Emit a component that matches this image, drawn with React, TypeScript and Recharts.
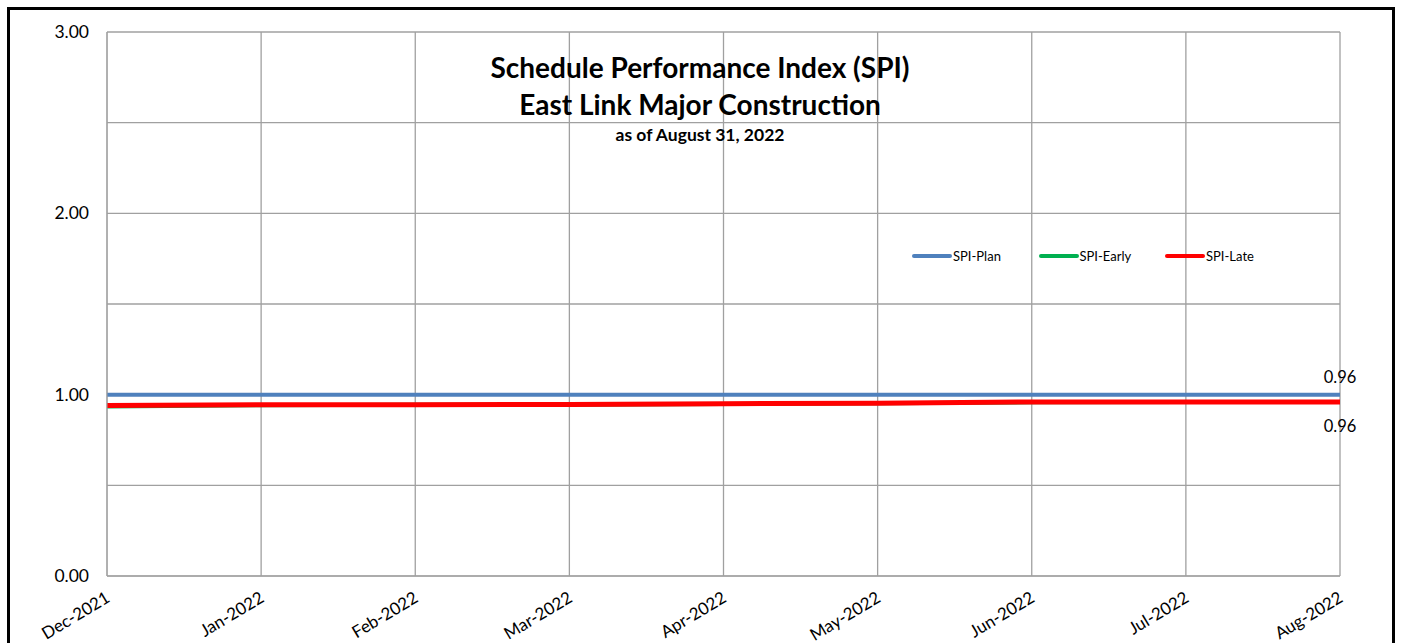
import { LineChart, Line, XAxis, YAxis, CartesianGrid, LabelList } from 'recharts';

const MONTHS = ['Dec-2021', 'Jan-2022', 'Feb-2022', 'Mar-2022', 'Apr-2022', 'May-2022', 'Jun-2022', 'Jul-2022', 'Aug-2022'];
const SPI_PLAN = [1, 1, 1, 1, 1, 1, 1, 1, 1];
const SPI_EARLY = [0.935, 0.942, 0.944, 0.945, 0.948, 0.952, 0.958, 0.96, 0.96];
const SPI_LATE = [0.94, 0.945, 0.945, 0.946, 0.95, 0.953, 0.96, 0.96, 0.96];
const Y_TICKS = [0, 0.5, 1, 1.5, 2, 2.5, 3];

const FONT = 'Lato, "Open Sans", sans-serif';

const SERIES = [
  { key: 'plan', name: 'SPI-Plan', color: '#4F81BD', width: 4 },
  { key: 'early', name: 'SPI-Early', color: '#00B050', width: 4 },
  { key: 'late', name: 'SPI-Late', color: '#FF0000', width: 5 },
];

const data = MONTHS.map((m, i) => ({
  month: m,
  plan: SPI_PLAN[i],
  early: SPI_EARLY[i],
  late: SPI_LATE[i],
}));

const YTick = ({ x, y, payload }: any) => {
  if (payload.value % 1 !== 0) return null;
  return (
    <text x={x - 10} y={y} dy={6} textAnchor="end" fontSize={17.5} fontFamily={FONT} fill="#000">
      {payload.value.toFixed(2)}
    </text>
  );
};

const XTick = ({ x, y, payload }: any) => (
  <g transform={`translate(${x + 4},${y + 17}) rotate(-31)`}>
    <text x={0} y={0} textAnchor="end" fontSize={17} fontFamily={FONT} fill="#000">
      {payload.value}
    </text>
  </g>
);

const lastLabel = (dy: number) => (props: any) => {
  const { x, y, index, value } = props;
  if (index !== MONTHS.length - 1) return null;
  return (
    <text x={x} y={y + dy} textAnchor="middle" fontSize={16.5} fontFamily={FONT} fill="#000">
      {Number(value).toFixed(2)}
    </text>
  );
};

export default function App() {
  return (
    <div style={{ position: 'fixed', left: 0, top: 0, width: 1403, height: 643, background: '#fff', overflow: 'hidden' }}>
      <div
        style={{
          position: 'absolute',
          left: 7,
          top: 7,
          width: 1388,
          height: 700,
          border: '3px solid #000',
          boxSizing: 'border-box',
        }}
      />
      <LineChart
        width={1403}
        height={643}
        data={data}
        margin={{ top: 32, right: 63, bottom: 0, left: 7 }}
        style={{ position: 'absolute', left: 0, top: 0 }}
      >
        <CartesianGrid stroke="#a0a0a0" strokeWidth={1.3} />
        <XAxis
          dataKey="month"
          interval={0}
          height={67}
          tickLine={false}
          axisLine={{ stroke: '#a0a0a0' }}
          tick={<XTick />}
        />
        <YAxis
          width={100}
          domain={[0, 3]}
          ticks={Y_TICKS}
          interval={0}
          tickLine={false}
          axisLine={{ stroke: '#a0a0a0' }}
          tick={<YTick />}
        />
        {SERIES.map((s) => (
          <Line
            key={s.key}
            dataKey={s.key}
            name={s.name}
            stroke={s.color}
            strokeWidth={s.width}
            dot={false}
            activeDot={false}
            isAnimationActive={false}
          >
            {s.key === 'early' && <LabelList dataKey="early" content={lastLabel(-19)} />}
            {s.key === 'late' && <LabelList dataKey="late" content={lastLabel(30)} />}
          </Line>
        ))}
      </LineChart>
      {/* legend sits inside the plot, so it's an overlay instead of Recharts' Legend */}
      <div style={{ position: 'absolute', left: 912, top: 248, display: 'flex', fontFamily: FONT, fontSize: 13 }}>
        {SERIES.map((s) => (
          <div key={s.key} style={{ display: 'flex', alignItems: 'center', width: 126.5 }}>
            <div style={{ width: 40, height: 4, borderRadius: 2, background: s.color }} />
            <span style={{ marginLeft: 1 }}>{s.name}</span>
          </div>
        ))}
      </div>
      <div
        style={{
          position: 'absolute',
          left: 400,
          width: 600,
          top: 49,
          textAlign: 'center',
          fontFamily: FONT,
          fontWeight: 'bold',
          color: '#000',
        }}
      >
        <div style={{ fontSize: 28, lineHeight: '37px' }}>Schedule Performance Index (SPI)</div>
        <div style={{ fontSize: 28, lineHeight: '36px' }}>East Link Major Construction</div>
        <div style={{ fontSize: 17.5, lineHeight: '26px' }}>as of August 31, 2022</div>
      </div>
    </div>
  );
}
